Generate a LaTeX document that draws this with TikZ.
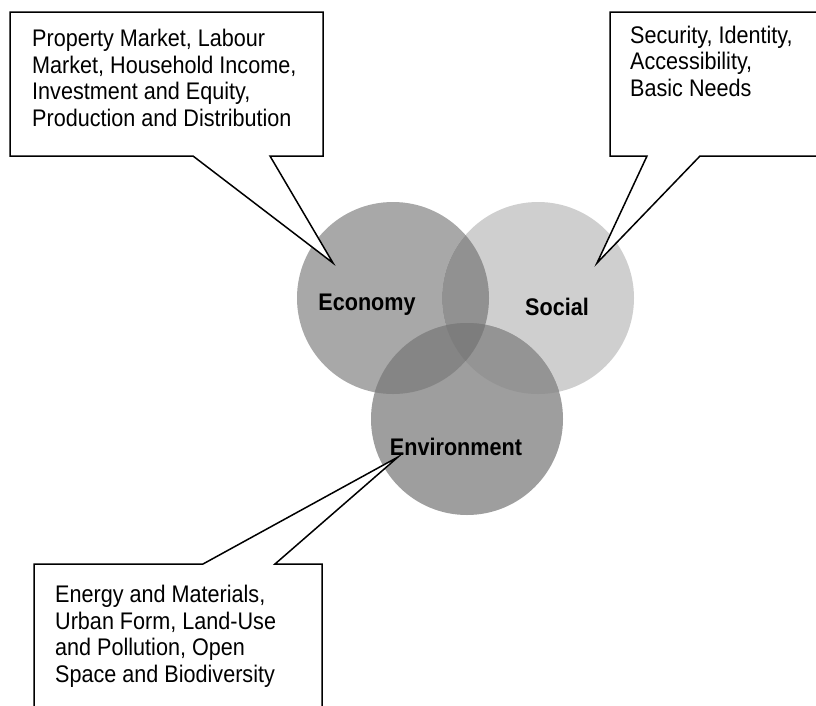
\documentclass[tikz,border=0pt]{standalone}
\usepackage{fontspec}
\setmainfont{Liberation Sans}[FakeStretch=0.9]
\begin{document}
\begin{tikzpicture}[x=1pt,y=-1pt,
  callout/.style={draw=black,line width=1.5pt,fill=white,line join=miter},
  boxtext/.style={anchor=base west,inner sep=0pt,align=left,font=\fontsize{24}{26.7}\selectfont},
  lbl/.style={anchor=base,inner sep=0pt,font=\fontsize{24}{28}\selectfont\bfseries}]
\useasboundingbox (0,0) rectangle (816,705);
\definecolor{cEco}{gray}{0.66}
\definecolor{cSoc}{gray}{0.81}
\definecolor{cEnv}{gray}{0.62}
\definecolor{cES}{gray}{0.57}
\definecolor{cEE}{gray}{0.52}
\definecolor{cSE}{gray}{0.58}
\definecolor{cAll}{gray}{0.49}
% circles
\coordinate (eco) at (393,298);
\coordinate (soc) at (538,298);
\coordinate (env) at (467,419);
\fill[cEco] (eco) circle[radius=96];
\fill[cSoc] (soc) circle[radius=96];
\fill[cEnv] (env) circle[radius=96];
\begin{scope}
  \clip (soc) circle[radius=96];
  \fill[cSE] (env) circle[radius=96];
\end{scope}
\begin{scope}
  \clip (eco) circle[radius=96];
  \fill[cES] (soc) circle[radius=96];
  \fill[cEE] (env) circle[radius=96];
  \clip (soc) circle[radius=96];
  \fill[cAll] (env) circle[radius=96];
\end{scope}
\node[lbl] (lEco) at (367,310) {Economy};
\node[lbl] (lSoc) at (557,315.5) {Social};
\node[lbl] (lEnv) at (456,455) {Environment};
% callouts
\coordinate (tipA) at (333,263);
\coordinate (tipB) at (597,263);
\coordinate (tipC) at (398,457);
\draw[callout] (10,12) -- (323,12) -- (323,156) -- (270,156) -- (tipA) -- (193,156) -- (10,156) -- cycle;
\draw[callout] (610,12) -- (822,12) -- (822,156) -- (700,156) -- (tipB) -- (647,156) -- (610,156) -- cycle;
\draw[callout] (34,712) -- (34,564) -- (203,564) -- (tipC) -- (275,564) -- (322,564) -- (322,712);
\node[boxtext] (tA) at (32,126.6) {Property Market, Labour\\Market, Household Income,\\Investment and Equity,\\Production and Distribution};
\node[boxtext] (tB) at (630,96.4) {Security, Identity,\\Accessibility,\\Basic Needs};
\node[boxtext] (tC) at (55,682.6) {Energy and Materials,\\Urban Form, Land-Use\\and Pollution, Open\\Space and Biodiversity};
\end{tikzpicture}
\end{document}
